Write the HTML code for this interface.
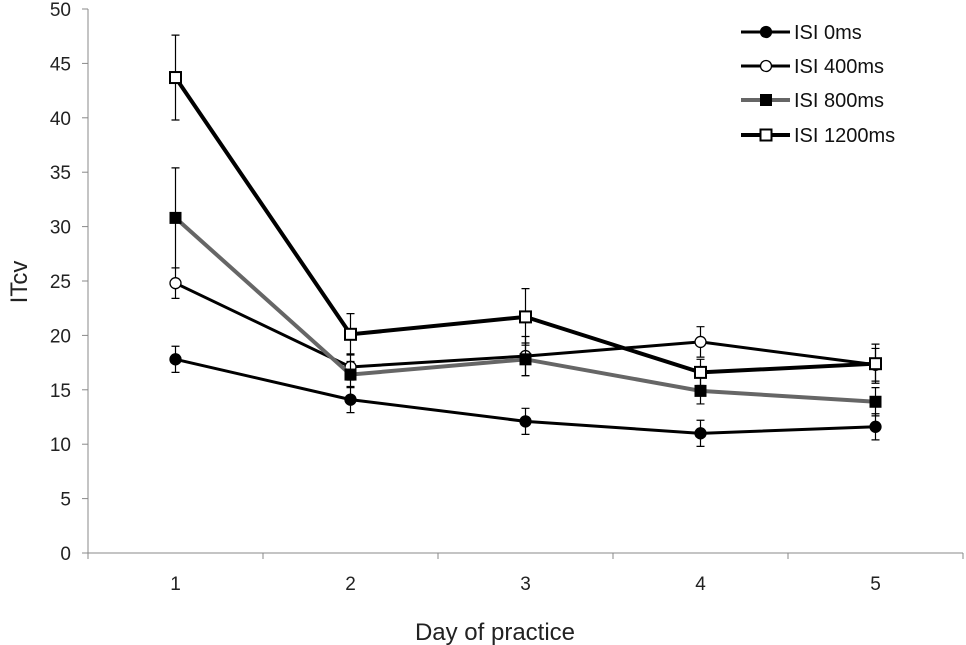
<!DOCTYPE html>
<html><head><meta charset="utf-8"><style>
html,body{margin:0;padding:0;background:#fff;}
svg{display:block;font-family:"Liberation Sans",Arial,sans-serif;}
</style></head><body>
<svg id="chart" width="966" height="645" viewBox="0 0 966 645" xmlns="http://www.w3.org/2000/svg">
<g id="axes"></g><g id="series"></g><g id="legend"></g>
</svg>
<script>
const categories = [1, 2, 3, 4, 5];
const yTicks = [0, 5, 10, 15, 20, 25, 30, 35, 40, 45, 50];
const seriesNames = ["ISI 0ms", "ISI 400ms", "ISI 800ms", "ISI 1200ms"];
const isi0 = [17.8, 14.1, 12.1, 11.0, 11.6];
const isi0Err = [1.2, 1.2, 1.2, 1.2, 1.2];
const isi400 = [24.8, 17.1, 18.1, 19.4, 17.3];
const isi400Err = [1.4, 1.2, 1.8, 1.4, 1.5];
const isi800 = [30.8, 16.4, 17.8, 14.9, 13.9];
const isi800Err = [4.6, 1.2, 1.5, 1.2, 1.3];
const isi1200 = [43.7, 20.1, 21.7, 16.6, 17.4];
const isi1200Err = [3.9, 1.9, 2.6, 1.2, 1.8];

const NS = "http://www.w3.org/2000/svg";
function mk(tag, attrs, parent){const e=document.createElementNS(NS,tag);for(const k in attrs)e.setAttribute(k,attrs[k]);parent.appendChild(e);return e;}
const x0=88, x1=963, y0=553, y50=9;
function xs(i){return x0+(x1-x0)*(i+0.5)/categories.length;}
function ys(v){return y0-(y0-y50)*v/50;}

const axes=document.getElementById('axes');
let a=mk('line',{x1:x0,y1:ys(50),x2:x0,y2:y0,stroke:'#888','stroke-width':1},axes);


a=mk('line',{x1:x0,y1:y0,x2:x1,y2:y0,stroke:'#888','stroke-width':1},axes);


yTicks.forEach(t=>{
  const y=ys(t);
  mk('line',{x1:x0-6,y1:y,x2:x0,y2:y,stroke:'#888'},axes);
  const tx=mk('text',{x:x0-17,y:y+7,'text-anchor':'end','font-size':19,fill:'#222'},axes);
  tx.textContent=t;
  
  
});
for(let i=0;i<=categories.length;i++){
  const x=x0+(x1-x0)*i/categories.length;
  mk('line',{x1:x,y1:y0,x2:x,y2:y0+6,stroke:'#888'},axes);
}
categories.forEach((c,i)=>{
  const tx=mk('text',{x:xs(i),y:y0+37,'text-anchor':'middle','font-size':19,fill:'#222'},axes);
  tx.textContent=c;
  
  
});
let t=mk('text',{x:495,y:640,'text-anchor':'middle','font-size':24,fill:'#222'},axes);
t.textContent='Day of practice';


t=mk('text',{x:0,y:0,'text-anchor':'middle','font-size':24,fill:'#222',transform:'translate(27,282) rotate(-90)'},axes);
t.textContent='ITcv';



const styles=[
 {vals:isi0,err:isi0Err,color:'#000',w:3,shape:'circle',fill:'#000'},
 {vals:isi400,err:isi400Err,color:'#000',w:3,shape:'circle',fill:'#fff'},
 {vals:isi800,err:isi800Err,color:'#666',w:4,shape:'square',fill:'#000'},
 {vals:isi1200,err:isi1200Err,color:'#000',w:4,shape:'square',fill:'#fff'}
];
function marker(g,shape,x,y,fill){
  if(shape==='circle') return mk('circle',{cx:x,cy:y,r:5.5,fill:fill,stroke:'#000','stroke-width':1.3},g);
  return mk('rect',{x:x-5.5,y:y-5.5,width:11,height:11,fill:fill,stroke:'#000','stroke-width':fill==='#fff'?2:1},g);
}
const sg=document.getElementById('series');
styles.forEach((s,k)=>{
  const g=mk('g',{},sg);
  
  
  s.vals.forEach((v,i)=>{
    const x=xs(i),yt=ys(v+s.err[i]),yb=ys(v-s.err[i]);
    const eb=mk('path',{d:`M${x},${yt}V${yb}M${x-4},${yt}H${x+4}M${x-4},${yb}H${x+4}`,stroke:'#000','stroke-width':1.2,fill:'none'},g);
    
    
  });
  const pl=mk('polyline',{points:s.vals.map((v,i)=>xs(i)+','+ys(v)).join(' '),fill:'none',stroke:s.color,'stroke-width':s.w},g);
  
  
  s.vals.forEach((v,i)=>{
    const m=marker(g,s.shape,xs(i),ys(v),s.fill);
    
    
  });
});
const lg=document.getElementById('legend');


const legY=[32,66,100,135];
styles.forEach((s,k)=>{
  const g=mk('g',{},lg);
  
  
  mk('line',{x1:741,y1:legY[k],x2:790,y2:legY[k],stroke:s.color,'stroke-width':s.w},g);
  marker(g,s.shape,766,legY[k],s.fill);
  const tx=mk('text',{x:794,y:legY[k]+7,'font-size':20,fill:'#111'},g);
  tx.textContent=seriesNames[k];
});
</script>
</body></html>
